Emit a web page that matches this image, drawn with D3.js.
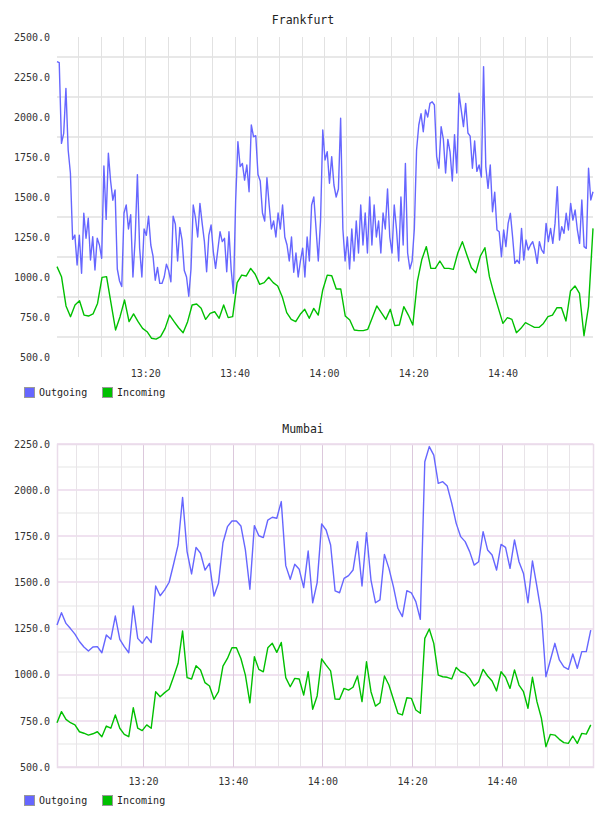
<!DOCTYPE html>
<html>
<head>
<meta charset="utf-8">
<script src="https://cdn.jsdelivr.net/npm/d3@7"></script>
<style>
body { margin: 0; background: #fff; }
svg { display: block; }
text { font-family: "DejaVu Sans Mono", monospace; }
</style>
</head>
<body>
<svg id="chart" width="608" height="816"></svg>
<script>
// Frankfurt, outgoing sampled every 30 s, incoming roughly every minute
const frankfurtOut = [
  2346,2340,1835,1898,2179,1794,1650,1235,1262,1075,
  1262,1023,1398,1242,1367,1106,1252,1044,1242,1200,
  1117,1694,1360,1773,1600,1480,1544,1050,975,940,
  1400,1450,1300,1390,1000,1240,1640,1180,1000,1300,
  1260,1380,1200,1130,980,1060,960,960,1000,1080,
  1040,970,1380,1330,1100,1310,1230,1040,1000,880,
  1050,1450,1370,1250,1460,1335,1221,1033,1262,1325,
  1158,1054,1169,1283,1221,1242,1033,1283,1044,898,
  1480,1846,1690,1710,1606,1700,1533,1950,1877,1883,
  1640,1600,1400,1350,1620,1450,1300,1350,1250,1400,
  1300,1450,1250,1200,1100,1250,1030,1150,1000,1100,
  1180,1000,1250,1100,1450,1500,1300,1100,1350,1919,
  1731,1783,1586,1752,1575,1500,1550,1992,1300,1100,
  1250,1050,1300,1100,1350,1150,1450,1200,1400,1150,
  1500,1200,1450,1250,1350,1150,1400,1300,1550,1250,
  1150,1450,1300,1100,1500,1200,1710,1150,1050,1100,
  1300,1794,1950,2021,1908,2044,2000,2085,2095,2075,
  1752,1680,1940,1860,1650,1860,1780,1600,1890,1650,
  2148,2044,1940,2085,1900,1880,1680,1850,1660,1700,
  1625,2315,1690,1554,1700,1408,1530,1294,1283,1127,
  1294,1190,1335,1398,1250,1085,1106,1085,1304,1106,
  1231,1169,1200,1221,1169,1085,1221,1169,1148,1335,
  1221,1304,1210,1335,1564,1231,1315,1273,1398,1294,
  1460,1356,1419,1294,1210,1481,1190,1179,1680,1481,
  1533
];
const frankfurtIn = [
  1065,1002,819,752,825,852,762,756,769,835,
  998,1002,835,669,752,856,721,769,721,679,
  658,617,612,627,679,762,721,683,652,721,
  825,831,804,735,773,783,742,825,746,752,
  965,1012,1006,1054,1017,954,965,998,965,944,
  877,777,735,721,767,798,742,804,762,919,
  1012,1008,925,925,756,731,669,665,665,673,
  746,819,777,735,798,696,700,815,762,700,
  971,1110,1190,1054,1054,1100,1054,1054,1048,1152,
  1221,1137,1058,1027,1131,1183,1002,898,804,710,
  746,735,652,679,715,700,685,685,710,752,
  762,808,808,725,912,944,898,633,815,1304
];

// Mumbai, one sample a minute
const mumbaiOut = [
  1269,1336,1278,1250,1220,1180,1150,1128,1150,1152,
  1119,1215,1192,1318,1192,1152,1119,1372,1197,1170,
  1206,1174,1481,1428,1460,1501,1600,1703,1961,1667,
  1546,1690,1658,1567,1603,1426,1495,1715,1802,1833,
  1833,1806,1676,1463,1808,1753,1743,1838,1853,1848,
  1938,1591,1517,1598,1571,1472,1670,1390,1499,1817,
  1784,1703,1454,1444,1522,1537,1567,1721,1481,1770,
  1513,1390,1405,1652,1576,1477,1360,1315,1455,1444,
  1396,1300,2154,2236,2190,2037,2046,2022,1929,1820,
  1748,1721,1667,1594,1612,1775,1676,1649,1567,1706,
  1690,1576,1730,1612,1549,1390,1617,1477,1330,989,
  1080,1170,1080,1043,1029,1112,1035,1125,1125,1242
];
const mumbaiIn = [
  740,800,758,740,728,691,683,673,680,691,
  664,722,710,782,710,677,664,821,710,697,
  728,710,908,881,903,921,989,1062,1237,984,
  977,1049,1026,957,939,867,908,1047,1088,1146,
  1146,1088,998,848,1097,1029,1016,1146,1170,1121,
  1175,984,935,980,977,890,1016,813,885,1085,
  1052,1021,868,867,926,917,932,993,854,1070,
  908,830,848,993,944,867,791,782,875,872,
  809,791,1197,1248,1170,998,989,986,977,1039,
  1016,1007,980,939,962,1029,993,966,912,1016,
  986,926,1026,944,908,818,986,854,764,610,
  677,673,650,632,628,668,628,682,678,728
];

const seriesNames = ['Outgoing', 'Incoming'];
const seriesColors = ['#6666ff', '#00c000'];
const frankfurtYTicks = [500, 750, 1000, 1250, 1500, 1750, 2000, 2250, 2500];
const mumbaiYTicks = [500, 750, 1000, 1250, 1500, 1750, 2000, 2250];

const parseTime = d3.timeParse('%H:%M:%S');

// spread samples evenly between first and last sample time
function toPoints(values, first, last) {
    const t0 = parseTime(first), t1 = parseTime(last);
    const step = (t1 - t0) / (values.length - 1);
    return values.map((v, i) => ({ t: new Date(+t0 + i * step), v: v }));
}

const svg = d3.select('#chart');
const left = 57, right = 593;
const snap = v => Math.round(v) + 0.5;

function drawChart(o) {
    const g = svg.append('g');

    const x = d3.scaleTime()
        .domain([parseTime(o.domain[0]), parseTime(o.domain[1])])
        .range([left, right]);
    const y = d3.scaleLinear()
        .domain([o.yTicks[0], o.yTicks[o.yTicks.length - 1]])
        .range([o.bottom, o.top]);

    // grid
    const grid = g.append('g');
    const fiveMin = x.ticks(d3.timeMinute.every(5))
        .filter(t => x(t) > left + 3 && x(t) < right - 3);

    if (o.pink) {
        const step = (o.yTicks[1] - o.yTicks[0]) / 2;
        const hVals = d3.range(o.yTicks[0], o.yTicks[o.yTicks.length - 1] + 1, step);
        grid.selectAll('line.h')
            .data(hVals)
            .join('line')
            .attr('x1', left).attr('x2', right)
            .attr('y1', d => Math.round(y(d))).attr('y2', d => Math.round(y(d)))
            .attr('stroke', d => (d % (step * 2) === 0) ? '#f0e2f0' : '#f2f2f2')
            .attr('stroke-width', 2);
        grid.selectAll('line.v')
            .data(fiveMin)
            .join('line')
            .attr('x1', d => snap(x(d))).attr('x2', d => snap(x(d)))
            .attr('y1', o.top).attr('y2', o.bottom)
            .attr('stroke', d => d.getMinutes() % 20 === 0 ? '#dcc8dc' : '#e8e4e8')
            .attr('stroke-width', 1);
        grid.append('rect')
            .attr('x', left + 0.5).attr('y', o.top + 0.5)
            .attr('width', right - left).attr('height', o.bottom - o.top)
            .attr('fill', 'none')
            .attr('stroke', '#eadcea')
            .attr('stroke-width', 1.5);
    } else {
        // horizontal lines sit halfway between the labels
        const mids = o.yTicks.slice(1).map((d, i) => (d + o.yTicks[i]) / 2);
        grid.selectAll('line.h')
            .data(mids)
            .join('line')
            .attr('x1', left).attr('x2', right)
            .attr('y1', d => Math.round(y(d))).attr('y2', d => Math.round(y(d)))
            .attr('stroke', '#e8e8e8')
            .attr('stroke-width', 2);
        grid.selectAll('line.v')
            .data(fiveMin)
            .join('line')
            .attr('x1', d => snap(x(d))).attr('x2', d => snap(x(d)))
            .attr('y1', o.top).attr('y2', o.bottom)
            .attr('stroke', '#e2e2e2')
            .attr('stroke-width', 1);
    }

    // axes
    const yAxis = g.append('g')
        .attr('transform', `translate(${left},0)`)
        .call(d3.axisLeft(y).tickValues(o.yTicks).tickFormat(d3.format('.1f')).tickSize(0).tickPadding(7));
    const xAxis = g.append('g')
        .attr('transform', `translate(0,${o.bottom})`)
        .call(d3.axisBottom(x).ticks(d3.timeMinute.every(20)).tickFormat(d3.timeFormat('%H:%M'))
            .tickSize(0).tickPadding(o.xPad));
    [yAxis, xAxis].forEach(a => {
        a.select('.domain').remove();
        a.selectAll('text')
            .style('font-family', '"DejaVu Sans Mono", monospace')
            .style('font-size', '10px')
            .attr('fill', '#333');
    });
    xAxis.selectAll('.tick')
        .filter(d => d.getMinutes() === 0 && (d.getHours() === 13 || d.getHours() === 15))
        .remove();

    // lines
    const line = d3.line().x(d => x(d.t)).y(d => y(d.v));
    o.series.forEach((s, i) => {
        g.append('path')
            .datum(toPoints(s.values, s.first, s.last))
            .attr('fill', 'none')
            .attr('stroke', seriesColors[i])
            .attr('stroke-width', 1.4)
            .attr('stroke-linejoin', 'round')
            .attr('d', line);
    });

    // title
    g.append('text')
        .attr('x', 303).attr('y', o.titleY)
        .attr('text-anchor', 'middle')
        .style('font-size', '11.5px')
        .attr('fill', '#222')
        .text(o.title);

    // legend
    const legend = g.append('g').attr('transform', `translate(24,${o.legendY})`);
    const item = legend.selectAll('g')
        .data(seriesNames)
        .join('g')
        .attr('transform', (d, i) => `translate(${i * 78},0)`);
    item.append('rect')
        .attr('x', 0.5).attr('y', 0.5)
        .attr('width', 10).attr('height', 10)
        .attr('fill', (d, i) => seriesColors[i])
        .attr('stroke', '#999');
    item.append('text')
        .attr('x', 15).attr('y', 9)
        .style('font-size', '10px')
        .attr('fill', '#222')
        .text(d => d);
}

drawChart({
    title: 'Frankfurt', titleY: 24,
    top: 37, bottom: 357, xPad: 13, legendY: 387,
    domain: ['13:00:15', '15:00:15'],
    yTicks: frankfurtYTicks,
    pink: false,
    series: [
        { values: frankfurtOut, first: '13:00:15', last: '15:00:15' },
        { values: frankfurtIn, first: '13:00:15', last: '15:00:15' }
    ]
});

drawChart({
    title: 'Mumbai', titleY: 433,
    top: 444, bottom: 767, xPad: 11, legendY: 795,
    domain: ['13:00:50', '15:00:20'],
    yTicks: mumbaiYTicks,
    pink: true,
    series: [
        { values: mumbaiOut, first: '13:00:50', last: '14:59:50' },
        { values: mumbaiIn, first: '13:00:50', last: '14:59:50' }
    ]
});
</script>
</body>
</html>
